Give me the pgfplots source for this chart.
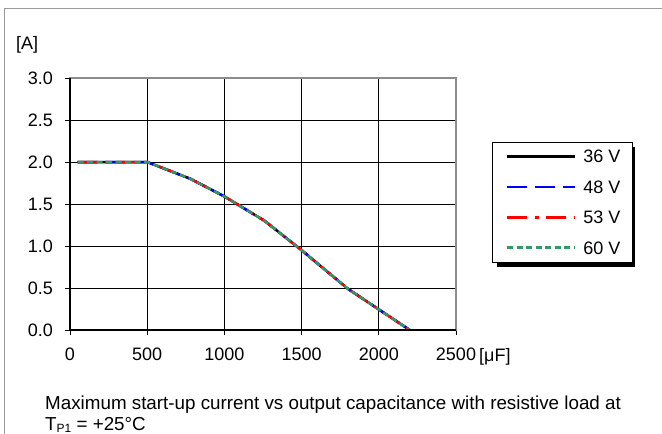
\documentclass[border=0pt]{standalone}
\usepackage{fontspec}
\setmainfont{Liberation Sans}
\usepackage{pgfplots}
\pgfplotsset{compat=1.18}
\definecolor{sgreen}{HTML}{339966}
\pgfplotstableread{
x y
50 2.0
500 2.0
780 1.8
1000 1.59
1260 1.3
1500 0.95
1800 0.49
2200 0.0
}\curve
\begin{document}
\begin{tikzpicture}[font=\fontsize{18}{21}\selectfont]
\useasboundingbox (0,0) rectangle (662pt,-434pt);
\draw[gray!80, line width=1pt] (4pt,-434pt) -- (4pt,-8pt) -- (662pt,-8pt);
\fill[black] (496.7pt,-146.7pt) rectangle (635pt,-266.7pt);
\begin{axis}[
  at={(70pt,-330pt)}, anchor=south west,
  scale only axis, width=386pt, height=252pt,
  xmin=0, xmax=2500, ymin=0, ymax=3,
  xtick={0,500,1000,1500,2000,2500},
  xticklabels={0,500,1000,1500,2000,2500},
  ytick={0,0.5,1,1.5,2,2.5,3},
  yticklabels={0.0,0.5,1.0,1.5,2.0,2.5,3.0},
  grid=major, major grid style={black, line width=0.9pt},
  axis line style={gray!90, line width=1.6pt},
  tick align=outside, major tick length=5pt,
  tick style={black, line width=0.8pt},
  tick pos=left,
  clip=false,
  yticklabel style={xshift=-8.5pt},
  xticklabel style={yshift=-9pt},
  legend style={at={(1.0925,0.747)}, anchor=north west,
    draw=black, line width=0.8pt, fill=white,
    inner xsep=14pt, inner ysep=7.85pt, row sep=17.5pt, column sep=6.7pt,
    nodes={inner sep=0pt, text height=12.9pt, text depth=0pt, anchor=west}},
  legend cell align=left,
  legend image code/.code={\draw[#1] (0pt,0pt) -- (68pt,0pt);},
]
\addplot[black, line width=2.5pt] table {\curve};
\addlegendentry{\makebox[35.3pt][l]{36 V}}
\addplot[blue, line width=2.5pt, dash pattern=on 20pt off 8pt] table {\curve};
\addlegendentry{\makebox[35.3pt][l]{48 V}}
\addplot[red, line width=2.5pt, dash pattern=on 20pt off 7.5pt on 4pt off 7.5pt] table {\curve};
\addlegendentry{\makebox[35.3pt][l]{53 V}}
\addplot[sgreen, line width=2.5pt, dash pattern=on 6pt off 3.5pt] table {\curve};
\addlegendentry{\makebox[35.3pt][l]{60 V}}
\draw[black, line width=1.2pt] (axis cs:0,3) -- (axis cs:0,0) -- (axis cs:2500,0);
\end{axis}
\node[anchor=west, inner sep=0pt] at (16pt,-45pt) {[A]};
\node[anchor=west, inner sep=0pt] at (479pt,-357pt) {[μF]};
\node[anchor=west, inner sep=0pt, font=\fontsize{18.8}{22}\selectfont] at (45pt,-405pt) {Maximum start-up current vs output capacitance with resistive load at};
\node[anchor=west, inner sep=0pt, font=\fontsize{18.8}{22}\selectfont] at (45pt,-425pt) {T{\fontsize{12}{12}\selectfont\raisebox{-1.5pt}{P1}} = +25°C};
\end{tikzpicture}
\end{document}
